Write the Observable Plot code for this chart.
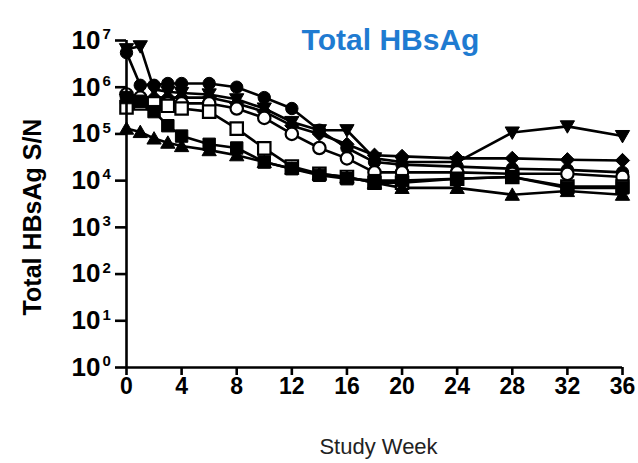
<!DOCTYPE html>
<html><head><meta charset="utf-8">
<script src="https://cdn.jsdelivr.net/npm/d3@7"></script>
<script src="https://cdn.jsdelivr.net/npm/@observablehq/plot@0.6"></script>
<style>body{margin:0;background:#fff;font-family:"Liberation Sans",Arial,sans-serif}</style>
</head><body><div id="chart"></div>
<script>
const weeks = [0,1,2,3,4,6,8,10,12,14,16,18,20,24,28,32,36];
const circleFilled = [5.5e6,1.1e6,1.1e6,1.2e6,1.2e6,1.2e6,1.0e6,6.0e5,3.5e5,1.2e5,5e4,2.5e4,2.2e4,2.0e4,1.8e4,1.7e4,1.5e4];
const triDown = [6.5e6,7.5e6,9e5,8e5,7.5e5,7e5,5.5e5,3.5e5,1.8e5,1.2e5,1.2e5,3e4,2.5e4,2.5e4,1.07e5,1.45e5,9e4];
const diamond = [7e5,6e5,6e5,6e5,6e5,6e5,4.5e5,3e5,1.5e5,1e5,6e4,3.5e4,3.3e4,3e4,3e4,2.8e4,2.7e4];
const circleOpen = [7e5,6e5,5e5,4.5e5,4.5e5,4.5e5,3.5e5,2.2e5,1e5,5e4,3e4,1.5e4,1.5e4,1.5e4,1.4e4,1.4e4,1.2e4];
const squareFilled = [6e5,5e5,3e5,1.5e5,9e4,6e4,5e4,2.5e4,1.8e4,1.3e4,1.1e4,1.0e4,1.0e4,1.1e4,1.2e4,7e3,7e3];
const squareOpen = [3.7e5,4.5e5,4.5e5,4e5,3.5e5,3e5,1.3e5,4.9e4,2e4,1.4e4,1.2e4,9e3,9e3,1.1e4,1.2e4,7.5e3,7.5e3];
const triUp = [1.3e5,1.1e5,8e4,6.5e4,5.5e4,4.5e4,3.5e4,2.5e4,1.8e4,1.4e4,1.2e4,9e3,7e3,7e3,5e3,6e3,5e3];
const yTicks = [1,10,100,1000,1e4,1e5,1e6,1e7];
const xTicks = [0,4,8,12,16,20,24,28,32,36];
const title = "Total HBsAg";
const yLabel = "Total HBsAg S/N";
const xLabel = "Study Week";

const symCircle = {draw(c, size){ const r = Math.sqrt(size/Math.PI); c.moveTo(r,0); c.arc(0,0,r,0,2*Math.PI); }};
const symSquare = {draw(c, size){ const h = Math.sqrt(size/Math.PI); c.rect(-h,-h,2*h,2*h); }};
const symDiamond = {draw(c, size){ const h = Math.sqrt(size/Math.PI)*1.15; c.moveTo(0,-h); c.lineTo(h,0); c.lineTo(0,h); c.lineTo(-h,0); c.closePath(); }};
const symTriUp = {draw(c, size){ const h = Math.sqrt(size/Math.PI); c.moveTo(0,-h*1.1); c.lineTo(h*1.15,h*0.9); c.lineTo(-h*1.15,h*0.9); c.closePath(); }};
const symTriDown = {draw(c, size){ const h = Math.sqrt(size/Math.PI); c.moveTo(0,h*1.1); c.lineTo(h*1.15,-h*0.9); c.lineTo(-h*1.15,-h*0.9); c.closePath(); }};

const series = [
  {name:"triDown", values: triDown, symbol: symTriDown, open:false},
  {name:"circleFilled", values: circleFilled, symbol: symCircle, open:false},
  {name:"diamond", values: diamond, symbol: symDiamond, open:false},
  {name:"circleOpen", values: circleOpen, symbol: symCircle, open:true},
  {name:"squareOpen", values: squareOpen, symbol: symSquare, open:true},
  {name:"squareFilled", values: squareFilled, symbol: symSquare, open:false},
  {name:"triUp", values: triUp, symbol: symTriUp, open:false}
];
const rows = series.flatMap(s => weeks.map((w,i) => ({series: s.name, week: w, value: s.values[i]})));

const marks = [
  Plot.line(rows, {x:"week", y:"value", z:"series", stroke:"black", strokeWidth:2.6}),
];
for (const s of series) {
  marks.push(Plot.dot(rows.filter(d => d.series === s.name), {
    x:"week", y:"value", symbol: s.symbol, r: 6.2,
    fill: s.open ? "white" : "black", stroke:"black", strokeWidth: s.open ? 2.2 : 1
  }));
}
marks.push(
  Plot.ruleX([0], {strokeWidth:2.6}),
  Plot.ruleY([1], {strokeWidth:2.6}),
  Plot.axisX({ticks:xTicks, tickSize:8, tickPadding:2, fontSize:23, fontWeight:"bold", strokeWidth:2.6, label:null, color:"black"}),
  Plot.axisY({ticks:yTicks, tickSize:11, tickFormat:() => "", strokeWidth:2.6, label:null}),
  Plot.text(yTicks, {y:d=>d, text:()=> "10", frameAnchor:"left", textAnchor:"end", dx:-26, fontSize:26, fontWeight:"bold", fill:"black"}),
  Plot.text(yTicks, {y:d=>d, text:d=>String(Math.round(Math.log10(d))), frameAnchor:"left", textAnchor:"start", dx:-24, dy:-6, fontSize:15, fontWeight:"bold", fill:"black"}),
  Plot.text([title], {text:d=>d, frameAnchor:"top", textAnchor:"middle", dx:16, dy:-12, fontSize:30, fontWeight:"bold", fill:"#1f7bd1"}),
  Plot.text([yLabel], {text:d=>d, frameAnchor:"left", textAnchor:"middle", rotate:-90, dx:-94, dy:13, fontSize:25, fontWeight:"bold", fill:"black"}),
  Plot.text([xLabel], {text:d=>d, frameAnchor:"bottom", textAnchor:"middle", dx:4, dy:86, fontSize:22, fill:"#222"})
);

const chart = Plot.plot({
  width:638, height:463,
  marginLeft:126, marginRight:16, marginTop:40, marginBottom:96,
  x:{domain:[0,36]},
  y:{type:"log", domain:[1,1e7]},
  style:{fontFamily:"'Liberation Sans', Arial, sans-serif", background:"white", color:"black"},
  marks
});
document.getElementById("chart").appendChild(chart);
</script>
</body></html>
